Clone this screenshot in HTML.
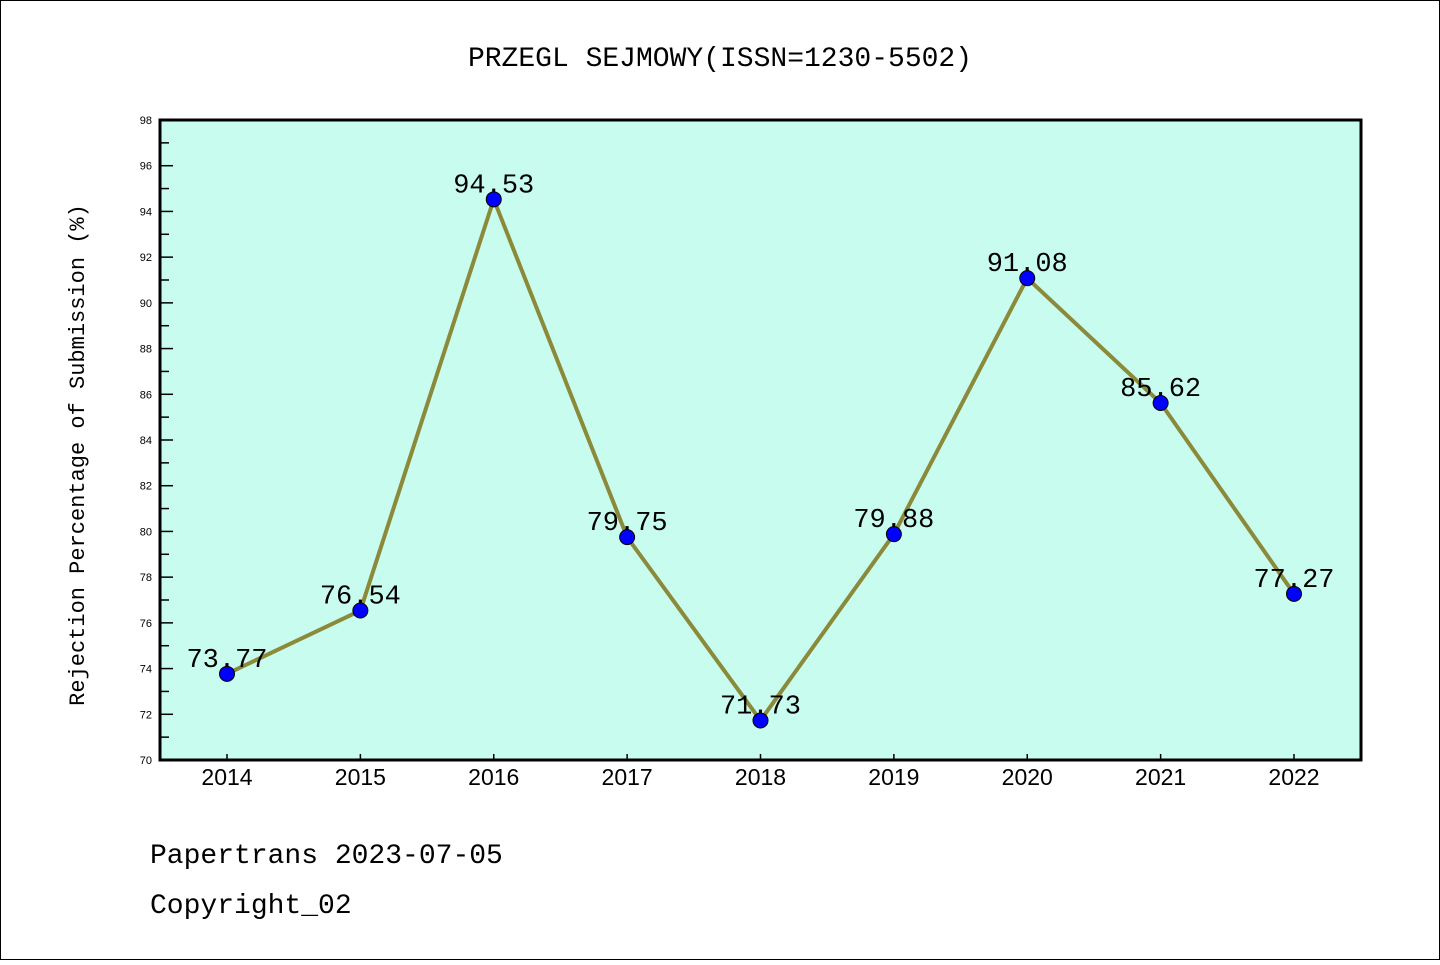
<!DOCTYPE html>
<html><head><meta charset="utf-8"><style>
body{margin:0;background:#fff;}
svg text{font-family:"Liberation Sans",sans-serif;}
svg text.mono{font-family:"Liberation Mono",monospace;}
</style></head><body>
<svg width="1440" height="960" xmlns="http://www.w3.org/2000/svg">
<rect x="0.5" y="0.5" width="1439" height="959" fill="#fff" stroke="#000"/>
<text class="mono" x="720" y="66" text-anchor="middle" font-size="28">PRZEGL SEJMOWY(ISSN=1230-5502)</text>
<rect x="160" y="120" width="1201" height="640" fill="#c8fcee"/>
<g id="axes"></g>
<g id="marks"></g>
<rect x="160" y="120" width="1201" height="640" fill="none" stroke="#000" stroke-width="3"/>
<text class="mono" transform="translate(84,455) rotate(-90)" text-anchor="middle" font-size="22">Rejection Percentage of Submission (%)</text>
<text class="mono" x="150" y="863" font-size="28">Papertrans 2023-07-05</text>
<text class="mono" x="150" y="913" font-size="28">Copyright_02</text>
</svg>
<script>
const years=["2014","2015","2016","2017","2018","2019","2020","2021","2022"];
const values=[73.77,76.54,94.53,79.75,71.73,79.88,91.08,85.62,77.27];
const labels=["73.77","76.54","94.53","79.75","71.73","79.88","91.08","85.62","77.27"];
const yTicks=[70,72,74,76,78,80,82,84,86,88,90,92,94,96,98];
const NS="http://www.w3.org/2000/svg";
const yMin=70,yMax=98,yTop=120,yBot=760;
const yS=v=>yBot-(v-yMin)/(yMax-yMin)*(yBot-yTop);
const xS=i=>227+i*(1294-227)/(years.length-1);
function mk(t,a,p){const e=document.createElementNS(NS,t);for(const k in a)e.setAttribute(k,a[k]);p.appendChild(e);return e;}
const ax=document.getElementById('axes'),mg=document.getElementById('marks');
yTicks.forEach((v,i)=>{
 const l=mk('line',{x1:160,x2:173,y1:yS(v),y2:yS(v),stroke:'#000','stroke-width':1.5},ax);
 
 
 const t=mk('text',{x:152,y:yS(v)+4,'text-anchor':'end','font-size':11},ax);t.textContent=v;
 
 
 if(i<yTicks.length-1){const m=mk('line',{x1:160,x2:169,y1:yS(v+1),y2:yS(v+1),stroke:'#000','stroke-width':1.5},ax);
 
 }
});
years.forEach((yr,i)=>{
 const l=mk('line',{x1:xS(i),x2:xS(i),y1:yBot,y2:yBot-6,stroke:'#000','stroke-width':1.5},ax);
 
 
 const t=mk('text',{x:xS(i),y:785,'text-anchor':'middle','font-size':23},ax);t.textContent=yr;
 
 
});
const pl=mk('polyline',{points:values.map((v,i)=>xS(i)+','+yS(v)).join(' '),fill:'none',stroke:'#8b8a3a','stroke-width':4,'stroke-linejoin':'round'},mg);


values.forEach((v,i)=>{
 const c=mk('circle',{cx:xS(i),cy:yS(v),r:7.5,fill:'#0000ff',stroke:'#000','stroke-width':1},mg);
 
 
 const t=mk('text',{x:xS(i),y:yS(v)-7,'text-anchor':'middle','font-size':27,'class':'mono'},mg);t.textContent=labels[i];
 
 
});
</script>
</body></html>
